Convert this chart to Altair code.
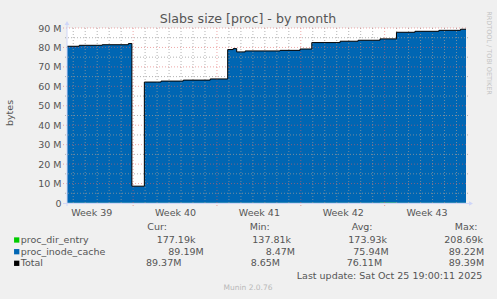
import json
import altair as alt
import pandas as pd

# ---------------- data ----------------
step_times = [
    "2025-09-22T11:30:00Z", "2025-09-23T12:00:00Z", "2025-09-25T10:00:00Z", "2025-09-27T14:30:00Z",
    "2025-09-27T21:30:00Z", "2025-09-28T22:30:00Z", "2025-09-30T08:00:00Z", "2025-10-02T04:30:00Z",
    "2025-10-04T10:30:00Z", "2025-10-05T21:30:00Z", "2025-10-06T08:30:00Z", "2025-10-06T15:30:00Z",
    "2025-10-07T08:30:00Z", "2025-10-10T06:30:00Z", "2025-10-11T22:30:00Z", "2025-10-12T22:00:00Z",
    "2025-10-15T06:45:00Z", "2025-10-16T18:45:00Z", "2025-10-18T14:40:00Z", "2025-10-19T23:40:00Z",
    "2025-10-21T12:40:00Z", "2025-10-23T12:40:00Z", "2025-10-25T08:00:00Z", "2025-10-25T19:00:00Z",
]
# proc_dir_entry (MB)
dir_entry = [0.15, 0.15, 0.16, 0.16, 0.18, 0.14, 0.15, 0.15, 0.16, 0.17, 0.17, 0.17,
             0.18, 0.18, 0.18, 0.19, 0.19, 0.19, 0.20, 0.18, 0.18, 0.18, 0.177, 0.177]
# proc_inode_cache (MB)
inode_cache = [80.45, 80.95, 81.24, 81.84, 8.47, 62.06, 62.55, 63.05, 63.64, 78.73, 79.23, 77.53,
               78.02, 78.32, 79.02, 82.31, 83.01, 83.51, 84.20, 87.62, 88.12, 88.62, 89.19, 89.19]

series_names = ["proc_dir_entry", "proc_inode_cache"]
series_colors = ["#00CC00", "#0066B3"]

y_tick_values = [0, 10, 20, 30, 40, 50, 60, 70, 80, 90]
y_tick_labels = ["0", "10 M", "20 M", "30 M", "40 M", "50 M", "60 M", "70 M", "80 M", "90 M"]
week_centers = ["2025-09-24", "2025-10-01", "2025-10-08", "2025-10-15", "2025-10-22"]
week_labels = ["Week 39", "Week 40", "Week 41", "Week 42", "Week 43"]

legend_rows = ["proc_dir_entry", "proc_inode_cache", "Total"]
legend_cur = ["177.19k", "89.19M", "89.37M"]
legend_min = ["137.81k", "8.47M", "8.65M"]
legend_avg = ["173.93k", "75.94M", "76.11M"]
legend_max = ["208.69k", "89.22M", "89.39M"]

title_text = "Slabs size [proc] - by month"
y_title = "bytes"
last_update = "Last update: Sat Oct 25 19:00:11 2025"
footer = "Munin 2.0.76"
watermark = "RRDTOOL / TOBI OETIKER"

# ---------------- layout / style ----------------
W, H = 399, 175
FONT = "DejaVu Sans"
FC = "#555555"
AXISC = "#CFD6F8"

rows = []
for i, t in enumerate(step_times):
    rows.append({"t": t, "s": series_names[0], "o": 0, "v": dir_entry[i]})
    rows.append({"t": t, "s": series_names[1], "o": 1, "v": inode_cache[i]})
df = pd.DataFrame(rows)
df_total = pd.DataFrame({"t": step_times, "v": [a + b for a, b in zip(dir_entry, inode_cache)]})

xscale = alt.Scale(
    type="utc",
    domain=[alt.DateTime(year=2025, month=9, date=22, hours=11, minutes=30, utc=True),
            alt.DateTime(year=2025, month=10, date=25, hours=19, utc=True)],
)
yscale = alt.Scale(domain=[0, 90], nice=False, zero=True)

week_expr = "''"
for d, l in reversed(list(zip(week_centers, week_labels))):
    week_expr = f"utcFormat(datum.value, '%Y-%m-%d') == '{d}' ? '{l}' : {week_expr}"

x_axis = alt.Axis(
    values=[alt.DateTime(year=int(d[:4]), month=int(d[5:7]), date=int(d[8:10]), hours=12, utc=True)
            for d in week_centers],
    labelExpr=week_expr, ticks=False, tickSize=0, domain=False, grid=False, labelPadding=4,
    labelFont=FONT, labelFontSize=9.5, labelColor=FC, title=None, labelFlush=False, labelOverlap=False,
)
y_axis = alt.Axis(
    values=y_tick_values,
    labelExpr=json.dumps(y_tick_labels) + "[indexof(" + json.dumps(y_tick_values) + ", datum.value)]",
    ticks=False, tickSize=0, domain=False, grid=False, labelPadding=6,
    labelFont=FONT, labelFontSize=9.5, labelColor=FC, title=None,
)


def X(field="t:T", **kw):
    return alt.X(field, scale=xscale, axis=x_axis, **kw)


def Y(field="v:Q", **kw):
    return alt.Y(field, scale=yscale, axis=y_axis, **kw)


area = alt.Chart(df).mark_area(interpolate="step-after").encode(
    x=X(),
    y=Y(stack="zero"),
    color=alt.Color("s:N", scale=alt.Scale(domain=series_names, range=series_colors), legend=None),
    order=alt.Order("o:Q"),
)

# grid
days = pd.date_range("2025-09-23", "2025-10-25", freq="D", tz="UTC")
minor_days = [d.strftime("%Y-%m-%dT%H:%M:%SZ") for d in days if d.dayofweek != 6]
major_days = [d.strftime("%Y-%m-%dT%H:%M:%SZ") for d in days if d.dayofweek == 6]
minor_v = [5, 15, 25, 35, 45, 55, 65, 75, 85]
major_v = [10, 20, 30, 40, 50, 60, 70, 80, 90]

MINOR = dict(color="#9A9A9A", opacity=0.75, strokeDash=[1, 2], strokeWidth=1)
MAJOR = dict(color="#E06060", opacity=0.55, strokeDash=[1, 2], strokeWidth=1)

g_minor_x = alt.Chart(pd.DataFrame({"t": minor_days})).mark_rule(**MINOR).encode(
    x=X(), y=alt.value(0), y2=alt.value(H))
g_major_x = alt.Chart(pd.DataFrame({"t": major_days})).mark_rule(**MAJOR).encode(
    x=X(), y=alt.value(0), y2=alt.value(H + 3))
g_minor_y = alt.Chart(pd.DataFrame({"v": minor_v})).mark_rule(**MINOR).encode(
    y=Y(), x=alt.value(-2), x2=alt.value(W + 2))
g_major_y = alt.Chart(pd.DataFrame({"v": major_v})).mark_rule(**MAJOR).encode(
    y=Y(), x=alt.value(-4), x2=alt.value(W + 2))

total_line = alt.Chart(df_total).mark_line(interpolate="step-after", color="#000000", strokeWidth=1).encode(
    x=X(), y=Y()
)

# axis lines with arrows
x_axis_line = alt.Chart(pd.DataFrame({"a": [0]})).mark_rule(color=AXISC, strokeWidth=1).encode(
    x=alt.value(-4), x2=alt.value(W + 4), y=alt.value(H + 0.5))
y_axis_line = alt.Chart(pd.DataFrame({"a": [0]})).mark_rule(color=AXISC, strokeWidth=1).encode(
    x=alt.value(0), y=alt.value(H + 3), y2=alt.value(-4))
x_arrow = alt.Chart(pd.DataFrame({"a": [0]})).mark_point(
    shape="triangle-right", filled=True, color=AXISC, size=22, opacity=1).encode(
    x=alt.value(W + 5), y=alt.value(H + 0.5))
y_arrow = alt.Chart(pd.DataFrame({"a": [0]})).mark_point(
    shape="triangle-up", filled=True, color=AXISC, size=22, opacity=1).encode(
    x=alt.value(0), y=alt.value(-5))


def label(text, x, y, size=9.5, color=FC, align="left", angle=0):
    return alt.Chart(pd.DataFrame({"txt": [text]})).mark_text(
        font=FONT, fontSize=size, color=color, align=align, baseline="middle", angle=angle
    ).encode(x=alt.value(x), y=alt.value(y), text="txt:N")


texts = [
    label(title_text, 181, -9, size=12.6, align="center"),
    label(y_title, -57, 85, angle=270, align="center"),
    label(watermark, 421.5, 25, size=6.5, color="#C4C4C4", angle=90, align="center"),
    label("Cur:", 80.3, 199.3),
    label("Min:", 182.7, 199.3),
    label("Avg:", 284.7, 199.3),
    label("Max:", 387.7, 199.3),
    label(last_update, 415.3, 247.7, align="right"),
    label(footer, 181, 260.3, size=7.5, color="#B8B8B8", align="center"),
]
row_y = [212, 223.7, 235.3]
col_x = [
    [89.7, 185.3, 281.3, 377.3],
    [101.3, 198.7, 286.3, 381.7],
    [79.0, 183.7, 279.7, 381.7],
]
sq_colors = ["#00CC00", "#0066B3", "#000000"]
for i, name in enumerate(legend_rows):
    texts.append(label(name, -46.3, row_y[i]))
    for j, vals in enumerate([legend_cur, legend_min, legend_avg, legend_max]):
        texts.append(label(vals[i], col_x[i][j], row_y[i]))
    texts.append(
        alt.Chart(pd.DataFrame({"a": [0]})).mark_square(filled=True, color=sq_colors[i], size=28, opacity=1)
        .encode(x=alt.value(-50.3), y=alt.value(row_y[i]))
    )

chart = alt.layer(
    area, g_minor_x, g_minor_y, g_major_x, g_major_y, total_line,
    x_axis_line, y_axis_line, x_arrow, y_arrow, *texts
).properties(
    width=W, height=H,
    autosize=alt.AutoSizeParams(type="none"),
    padding={"left": 67, "top": 28, "right": 31, "bottom": 96},
    background="#F0F0F0",
).configure_view(stroke=None, fill="#FFFFFF")

chart.save("out.html", embed_options={"renderer": "svg", "actions": False})
